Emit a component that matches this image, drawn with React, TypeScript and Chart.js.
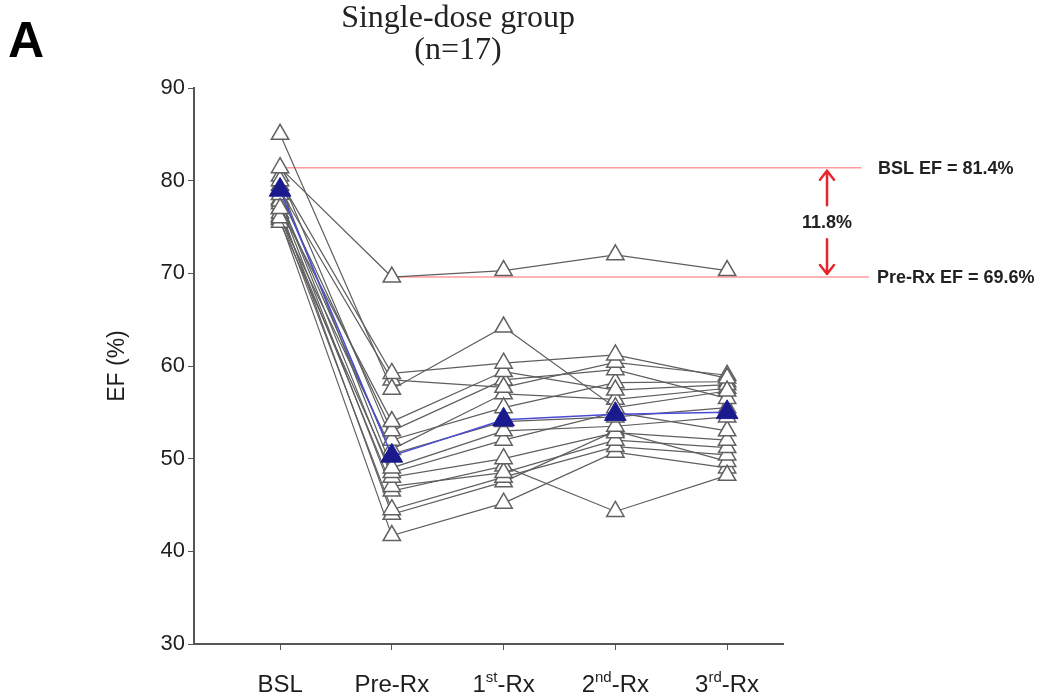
import React, { useEffect, useRef } from 'react';
import { Chart, registerables } from 'chart.js';

Chart.register(...registerables);

// ---- Data ----
const categories = ['BSL', 'Pre-Rx', '1st-Rx', '2nd-Rx', '3rd-Rx'];
const labelMain = ['BSL', 'Pre-Rx', '1', '2', '3'];
const labelSup = ['', '', 'st', 'nd', 'rd'];
const labelTail = ['', '', '-Rx', '-Rx', '-Rx'];
const yTicks = [30, 40, 50, 60, 70, 80, 90];
const titleLines = ['Single-dose group', '(n=17)'];
const panelLetter = 'A';
const yTitle = 'EF (%)';

// Individual subjects: EF at BSL, Pre-Rx, 1st-Rx, 2nd-Rx, 3rd-Rx
const subjects: number[][] = [
  [81.4, 69.6, 70.3, 72.0, 70.3],
  [85.0, 57.5, 64.2, 55.5, 57.3],
  [80.0, 59.2, 60.3, 61.2, 58.7],
  [79.0, 58.5, 57.7, 60.4, 59.0],
  [77.0, 54.0, 59.4, 57.4, 58.0],
  [78.5, 53.0, 58.5, 59.6, 56.5],
  [80.5, 52.0, 55.5, 58.2, 58.3],
  [76.0, 51.0, 57.0, 56.4, 57.6],
  [77.8, 50.5, 54.0, 54.5, 55.5],
  [79.5, 49.0, 53.0, 53.5, 54.5],
  [75.5, 48.5, 52.0, 55.0, 53.0],
  [78.0, 48.0, 50.0, 52.8, 52.0],
  [76.5, 47.0, 48.5, 52.0, 51.2],
  [77.5, 46.5, 49.2, 44.3, 48.2],
  [76.2, 44.5, 48.0, 51.3, 50.4],
  [77.0, 44.0, 47.5, 53.0, 49.7],
  [75.8, 41.7, 45.2, 50.7, 49.0],
];
const meanEF = [79.0, 50.3, 54.2, 54.8, 55.0];

const bslEF = 81.4;
const preRxEF = 69.6;
const diffEF = 11.8;
const bslLineSpan = [0, 5.2];
const preLineSpan = [1, 5.27];
const bslLabel = `BSL EF = ${bslEF}%`;
const preLabel = `Pre-Rx EF = ${preRxEF}%`;
const diffLabel = `${diffEF}%`;

const SANS = '"Liberation Sans", Arial, sans-serif';
const SERIF = '"Liberation Serif", "Times New Roman", serif';

const overlayPlugin = {
  id: 'overlay',
  afterDraw(chart: any) {
    const { ctx } = chart;
    const xs = chart.scales.x;
    const ys = chart.scales.y;
    ctx.save();

    // Panel letter
    ctx.fillStyle = '#000';
    ctx.textAlign = 'left';
    ctx.textBaseline = 'alphabetic';
    ctx.font = `bold 50px ${SANS}`;
    ctx.fillText(panelLetter, 8, 57);

    // Title
    ctx.fillStyle = '#222';
    ctx.textAlign = 'center';
    ctx.font = `32px ${SERIF}`;
    ctx.fillText(titleLines[0], 458, 27);
    ctx.fillText(titleLines[1], 458, 59);

    // X category labels with superscripts
    const mainFont = `24px ${SANS}`;
    const supFont = `15px ${SANS}`;
    const baseY = 692;
    ctx.textAlign = 'left';
    ctx.fillStyle = '#1e1e1e';
    for (let i = 0; i < categories.length; i++) {
      const cx = xs.getPixelForValue(i);
      ctx.font = mainFont;
      const w1 = ctx.measureText(labelMain[i]).width;
      const w3 = ctx.measureText(labelTail[i]).width;
      ctx.font = supFont;
      const w2 = ctx.measureText(labelSup[i]).width;
      let sx = cx - (w1 + w2 + w3) / 2;
      ctx.font = mainFont;
      ctx.fillText(labelMain[i], sx, baseY);
      sx += w1;
      ctx.font = supFont;
      ctx.fillText(labelSup[i], sx, baseY - 10);
      sx += w2;
      ctx.font = mainFont;
      ctx.fillText(labelTail[i], sx, baseY);
    }

    // Double arrow between reference lines
    const ax = 827;
    const yTop = ys.getPixelForValue(bslEF);
    const yBot = ys.getPixelForValue(preRxEF);
    const yMid = (yTop + yBot) / 2;
    ctx.strokeStyle = '#e8242c';
    ctx.lineWidth = 2.5;
    ctx.lineCap = 'round';
    ctx.lineJoin = 'round';
    ctx.beginPath();
    ctx.moveTo(ax, yTop + 3);
    ctx.lineTo(ax, yMid - 17);
    ctx.moveTo(ax, yMid + 17);
    ctx.lineTo(ax, yBot - 3);
    // heads
    ctx.moveTo(ax - 7, yTop + 12);
    ctx.lineTo(ax, yTop + 3);
    ctx.lineTo(ax + 7, yTop + 12);
    ctx.moveTo(ax - 7, yBot - 12);
    ctx.lineTo(ax, yBot - 3);
    ctx.lineTo(ax + 7, yBot - 12);
    ctx.stroke();

    ctx.fillStyle = '#222';
    ctx.font = `bold 18px ${SANS}`;
    ctx.textAlign = 'center';
    ctx.textBaseline = 'middle';
    ctx.fillText(diffLabel, ax, yMid + 1);

    ctx.textAlign = 'left';
    ctx.fillText(bslLabel, 878, yTop + 1);
    ctx.fillText(preLabel, 877, yBot + 1);

    ctx.restore();
  },
};

export default function App() {
  const canvasRef = useRef<HTMLCanvasElement | null>(null);

  useEffect(() => {
    const canvas = canvasRef.current;
    if (!canvas) return;

    const subjectSets = subjects.map((vals, k) => ({
      label: `Subject ${k + 1}`,
      data: vals.map((v, i) => ({ x: i, y: v })),
      borderColor: '#5e5e5e',
      borderWidth: 1.2,
      pointStyle: 'triangle',
      pointRadius: 10,
      pointBorderColor: '#606060',
      pointBorderWidth: 1.5,
      pointBackgroundColor: '#ffffff',
      tension: 0,
      order: 2,
    }));

    const chart = new Chart(canvas, {
      type: 'line',
      data: {
        datasets: [
          {
            label: 'BSL EF',
            data: bslLineSpan.map((x) => ({ x, y: bslEF })),
            borderColor: '#ff9a9e',
            borderWidth: 1.5,
            pointRadius: 0,
            clip: false,
            order: 5,
          },
          {
            label: 'Pre-Rx EF',
            data: preLineSpan.map((x) => ({ x, y: preRxEF })),
            borderColor: '#ff9a9e',
            borderWidth: 1.5,
            pointRadius: 0,
            clip: false,
            order: 5,
          },
          ...subjectSets,
          {
            label: 'Mean',
            data: meanEF.map((v, i) => ({ x: i, y: v })),
            borderColor: '#4b4bd6',
            borderWidth: 1.5,
            pointStyle: 'triangle',
            pointRadius: 12.5,
            pointBorderColor: '#1a1a8e',
            pointBorderWidth: 1,
            pointBackgroundColor: '#1a1a8e',
            order: 1,
          },
        ] as any,
      },
      options: {
        responsive: false,
        animation: false,
        devicePixelRatio: 1,
        layout: { padding: { left: 100, top: 88, right: 261, bottom: 0 } },
        plugins: {
          legend: { display: false },
          tooltip: { enabled: false },
          title: { display: false },
        },
        scales: {
          x: {
            type: 'linear',
            min: -0.77,
            max: 4.5,
            afterBuildTicks: (s: any) => {
              s.ticks = categories.map((_, i) => ({ value: i }));
            },
            afterFit: (s: any) => {
              s.height = 52;
            },
            ticks: { display: false },
            grid: {
              display: true,
              drawOnChartArea: false,
              drawTicks: true,
              tickLength: 6,
              color: '#555',
              lineWidth: 1,
            },
            border: { display: true, color: '#555', width: 2 },
          },
          y: {
            type: 'linear',
            min: 30,
            max: 90,
            afterBuildTicks: (s: any) => {
              s.ticks = yTicks.map((v) => ({ value: v }));
            },
            afterFit: (s: any) => {
              s.width = 94;
            },
            ticks: {
              color: '#1e1e1e',
              font: { family: SANS, size: 22 },
              padding: 3,
            },
            title: {
              display: true,
              text: yTitle,
              color: '#1e1e1e',
              font: { family: SANS, size: 23 },
            },
            grid: {
              display: true,
              drawOnChartArea: false,
              drawTicks: true,
              tickLength: 6,
              color: '#555',
              lineWidth: 1,
            },
            border: { display: true, color: '#555', width: 2 },
          },
        },
      } as any,
      plugins: [overlayPlugin],
    });

    return () => chart.destroy();
  }, []);

  return (
    <div style={{ position: 'absolute', left: 0, top: 0, width: 1044, height: 696, background: '#fff' }}>
      <canvas ref={canvasRef} width={1044} height={696} style={{ display: 'block', width: 1044, height: 696 }} />
    </div>
  );
}
